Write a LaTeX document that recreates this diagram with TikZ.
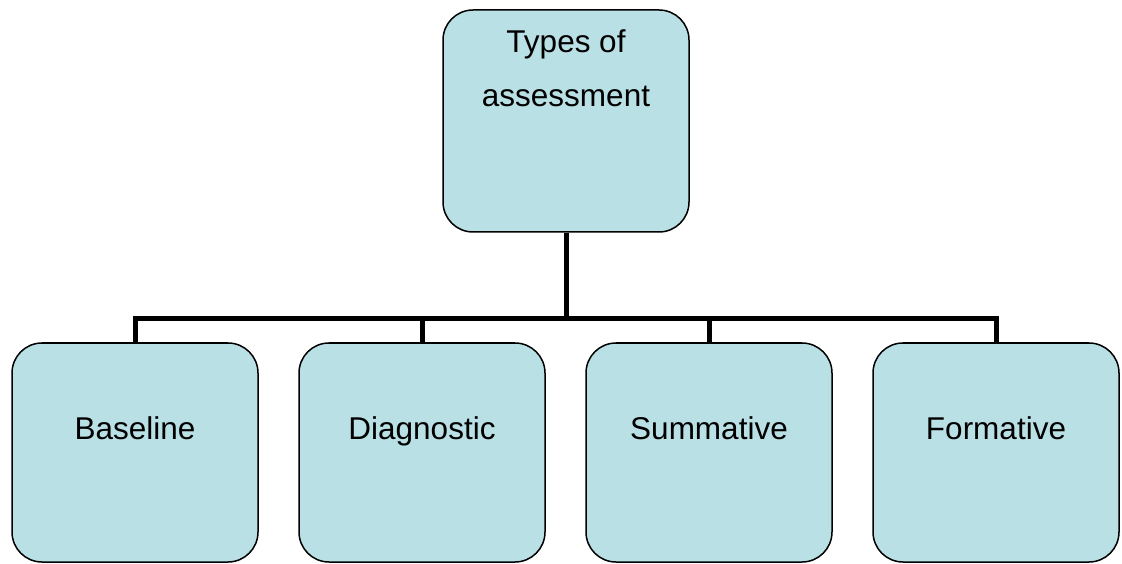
\documentclass[tikz,border=0pt]{standalone}
\usepackage{fontspec}
\setmainfont{Liberation Sans}
\definecolor{boxfill}{RGB}{185,224,228}
\begin{document}
\begin{tikzpicture}[x=1pt,y=1pt,
  box/.style={draw=black, fill=boxfill, line width=1.5pt, rounded corners=30pt,
    rectangle, minimum width=246pt, inner sep=0pt},
  topbox/.style={box, minimum height=222pt},
  leafbox/.style={box, minimum height=219pt},
  lbl/.style={anchor=base, inner sep=0pt, font=\fontsize{31.5}{38}\selectfont},
  conn/.style={draw=black, line width=5pt, line join=miter}]
  \useasboundingbox (0,0) rectangle (1122,563);

  % root and leaves
  \node[topbox] (root) at (566,442) {};
  \node[leafbox] (b1) at (135,110.5) {};
  \node[leafbox] (b2) at (422,110.5) {};
  \node[leafbox] (b3) at (709,110.5) {};
  \node[leafbox] (b4) at (996,110.5) {};

  % labels
  \node[lbl] (t1) at (566,510) {Types of};
  \node[lbl] (t2) at (566,456) {assessment};
  \node[lbl] (l1) at (135,124) {Baseline};
  \node[lbl] (l2) at (422,124) {Diagnostic};
  \node[lbl] (l3) at (709,124) {Summative};
  \node[lbl] (l4) at (996,124) {Formative};

  % tree connectors
  \coordinate (bus) at (0,244);
  \draw[conn] (b1.north) -- (b1.north |- bus) -- (b4.north |- bus) -- (b4.north);
  \draw[conn] (root.south) -- (root.south |- bus);
  \draw[conn] (b2.north) -- (b2.north |- bus);
  \draw[conn] (b3.north) -- (b3.north |- bus);
\end{tikzpicture}
\end{document}
